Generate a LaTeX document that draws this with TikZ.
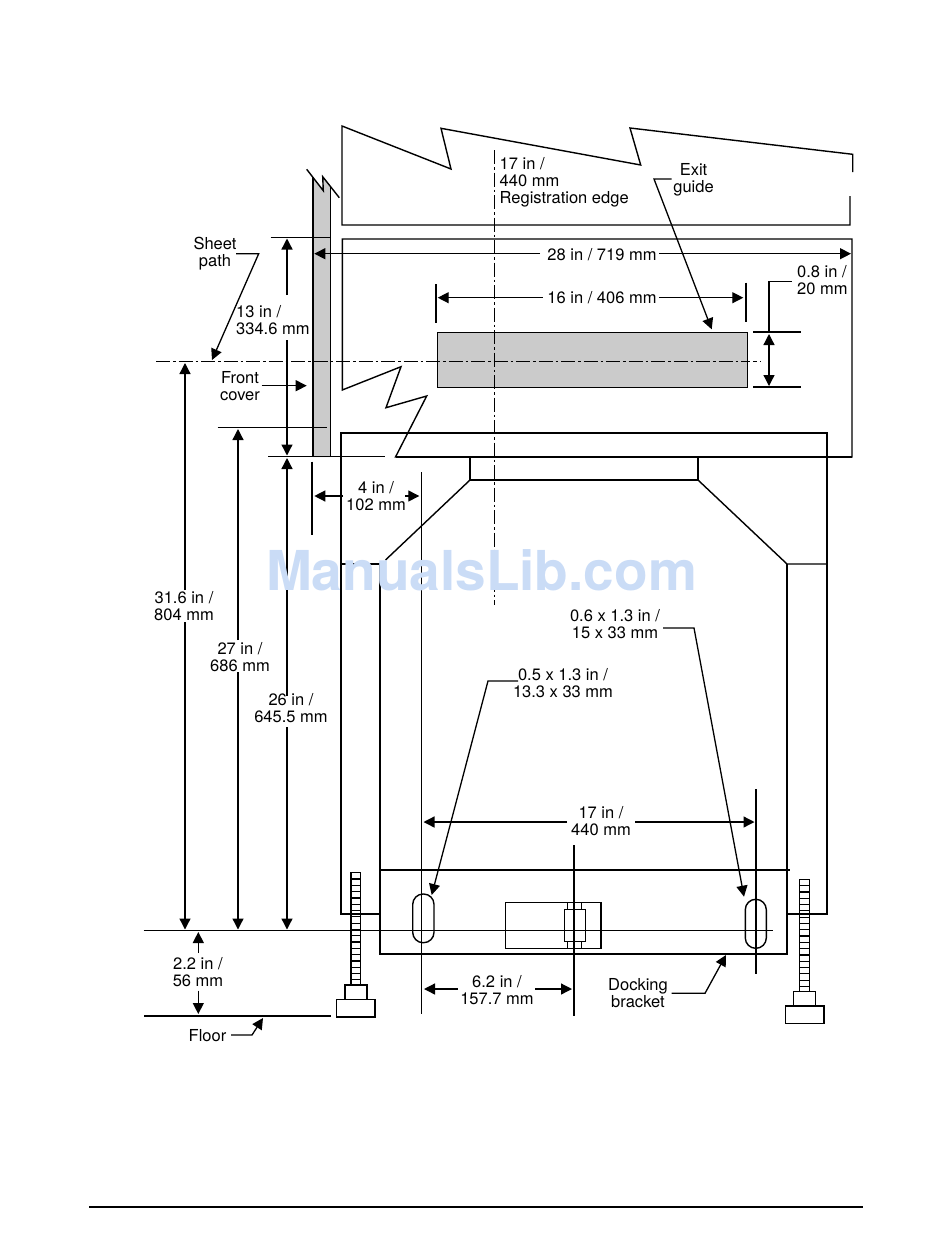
\documentclass[tikz,border=0pt]{standalone}
\usepackage{fontspec}
\setmainfont{TeX Gyre Heros}
\usetikzlibrary{arrows.meta}
\definecolor{strip}{HTML}{CBCBCB}
\definecolor{wmark}{HTML}{CADCF6}
\tikzset{
  ln/.style={line width=1.4pt,line join=miter},
  thin ln/.style={line width=1.2pt},
  hv/.style={line width=1.8pt},
  tip/.style={-{Triangle[length=11pt,width=11pt]},line width=1.3pt},
  tipboth/.style={{Triangle[length=11pt,width=11pt]}-{Triangle[length=11pt,width=11pt]},line width=1.3pt},
  centre line/.style={dash pattern=on 14pt off 3pt on 2.5pt off 3pt},
  lbl/.style={font=\fontsize{16.5}{17}\selectfont,align=center,inner sep=0pt},
  lbll/.style={font=\fontsize{16.5}{17}\selectfont,align=left,inner sep=0pt},
}
\begin{document}
\begin{tikzpicture}[x=1pt,y=-1pt]
\useasboundingbox (0,0) rectangle (950,1248);
% Grey parts
\fill[strip] (312.7,177) -- (323,190) -- (322.7,177) -- (330.7,187) -- (330.7,457) -- (312.7,457) -- cycle;
\filldraw[fill=strip,ln] (437.7,332.7) rectangle (747.7,387.3);
% Top broken panel
\draw[ln] (852.7,172) -- (852.7,154.3) -- (630,128) -- (640.7,165) -- (441,128.3) -- (451,169) -- (342,126) -- (342,225) -- (850,225) -- (850,196);
% Front panel
\draw[ln] (342.3,390) -- (342.3,239) -- (852,239) -- (852,457) -- (395.5,457) -- (426.7,396) -- (386,407.7) -- (401,366.7) -- cycle;
\draw[hv] (395.5,457) -- (852,457);
% Sheet path strip
\draw[hv] (312.7,177) -- (312.7,457);
\draw[ln] (330.7,187) -- (330.7,457);
\draw[ln] (306.7,169.3) -- (323.3,190.7) -- (322.7,176.7) -- (339.3,197.7);
% Extension lines
\draw[thin ln] (270.7,237.3) -- (330.7,237.3);
\draw[thin ln] (217.7,427.7) -- (326.7,427.7);
\draw[thin ln] (268.3,456.7) -- (385,456.7);
\draw[thin ln] (143.6,930.5) -- (773,930.5);
\draw[ln] (144,1016) -- (330.5,1016);
% Centre lines
\draw[centre line,line width=1.7pt] (156,361.5) -- (746,361.5);
\draw[line width=1.5pt,dash pattern=on 4pt off 3pt] (746,361.5) -- (761,361.5);
\draw[centre line,line width=1pt] (494,150) -- (494,605);
% Machine frame
\draw[ln] (380,914) -- (341,914) -- (341,433) -- (827,433) -- (827,914) -- (787,914);
\draw[ln] (470,457) -- (470,480) -- (698,480) -- (698,457);
\draw[ln] (385.5,560) -- (470,480);
\draw[ln] (698,480) -- (787,564) -- (827,564);
\draw[ln] (341,564) -- (380,564) -- (380,954) -- (787,954) -- (787,564);
\draw[ln] (380,870) -- (790,870);
% Vertical reference lines
\draw[ln] (312,461.7) -- (312,535);
\draw[ln] (421.7,472) -- (421.7,1014);
\draw[thin ln] (756,789) -- (756,974);
\draw[thin ln] (574,845) -- (574,1015.7);
% Slots
\draw[ln,rounded corners=10.4pt] (412.7,894) rectangle (434,942.7);
\draw[ln,rounded corners=10.4pt] (745.3,899.3) rectangle (766.3,948.3);
% Centre bracket
\draw[ln] (505.7,902.7) rectangle (601,948.3);
\draw[ln] (564.7,909.3) rectangle (585.7,941.7);
\draw[thin ln] (567.7,902.7) -- (567.7,909.3) (581.7,902.7) -- (581.7,909.3) (567.7,941.7) -- (567.7,948.3) (581.7,941.7) -- (581.7,948.3);
% Left foot
\draw[ln] (351,872.7) rectangle (360.7,985);
\foreach \y in {879,885.3,...,980} \draw[thin ln] (351,\y) -- (360.7,\y);
\draw[ln,fill=white] (345,985) rectangle (367,999.3);
\draw[ln,fill=white] (336.3,999.3) rectangle (375,1017);
% Right foot
\draw[ln] (799.3,879.3) rectangle (809.3,991.7);
\foreach \y in {885.6,891.9,...,987} \draw[thin ln] (799.3,\y) -- (809.3,\y);
\draw[ln,fill=white] (793.7,991.7) rectangle (815.3,1006);
\draw[ln,fill=white] (785.3,1006) rectangle (824,1023.7);
% Ticks for 16 in and 0.8 in
\draw[ln] (436,284) -- (436,322.7);
\draw[ln] (746,282.7) -- (746,321.7);
\draw[thin ln] (753,332) -- (801,332);
\draw[thin ln] (753,387) -- (801,387);
% Labels
\node[lbll,anchor=west] (reg) at (499.5,182) {17 in /\\440 mm\\Registration edge};
\node[lbl] (exit) at (693.5,180) {Exit\\guide};
\node[lbl] (sheet) at (215,253.5) {Sheet\\path};
\node[lbll,anchor=west] (d13) at (236,320) {13 in /\\334.6 mm};
\node[lbl] (front) at (240,386) {Front\\cover};
\node[lbl] (d28) at (602,255) {28 in / 719 mm};
\node[lbl] (d16) at (602,298) {16 in / 406 mm};
\node[lbll,anchor=west] (d08) at (797,280) {0.8 in /\\20 mm};
\node[lbl] (d4) at (376,496.5) {4 in /\\102 mm};
\node[lbl] (d316) at (184,606) {31.6 in /\\804 mm};
\node[lbl] (d27) at (240,657) {27 in /\\686 mm};
\node[lbl] (d26) at (291,708) {26 in /\\645.5 mm};
\node[lbl] (s06) at (615,624) {0.6 x 1.3 in /\\15 x 33 mm};
\node[lbl] (s05) at (563,683) {0.5 x 1.3 in /\\13.3 x 33 mm};
\node[lbl] (d17) at (601,821.5) {17 in /\\440 mm};
\node[lbl] (d22) at (198,972.5) {2.2 in /\\56 mm};
\node[lbl] (d62) at (497,990) {6.2 in /\\157.7 mm};
\node[lbl] (dock) at (638,993.5) {Docking\\bracket};
\node[lbl] (floor) at (207.5,1035.5) {Floor};
% Dimension arrows
\draw[tip] (287,295) -- (287,238.5);
\draw[tip] (287,340) -- (287,455.5);
\draw[tip] (287,696) -- (287,458);
\draw[tip] (287,727) -- (287,929.5);
\draw[tip] (238,640) -- (238,429);
\draw[tip] (238,672) -- (238,929.5);
\draw[tip] (185,590) -- (185,363);
\draw[tip] (185,622) -- (185,929.5);
\draw[tip] (198.3,953) -- (198.3,932);
\draw[tip] (198.3,990.7) -- (198.3,1014);
\draw[tip] (343,496) -- (314.3,496);
\draw[tip] (405,496) -- (419.3,496);
\draw[tip] (540,253.7) -- (314.3,253.7);
\draw[tip] (659,253.7) -- (851,253.7);
\draw[tip] (542.7,297.7) -- (437.7,297.7);
\draw[tip] (659,297.7) -- (743.3,297.7);
\draw[tipboth] (769,334) -- (769,386);
\draw[thin ln] (769,332) -- (769,281.7) -- (791.7,281.7);
\draw[tip] (567,822) -- (423.5,822);
\draw[tip] (635,822) -- (754.5,822);
\draw[tip] (457.7,989) -- (424,989);
\draw[tip] (535,989) -- (572,989);
% Leaders
\draw[tip] (671.7,179) -- (654,179) -- (711.7,329.3);
\draw[tip] (236,253.7) -- (258.7,253.7) -- (212,360);
\draw[tip] (261.7,385.7) -- (306.7,385.7);
\draw[tip] (663,628) -- (694,628) -- (744,896.7);
\draw[tip] (518,681) -- (488,681) -- (431.7,895);
\draw[tip] (671.7,993.3) -- (705,993.3) -- (726,955);
\draw[tip] (231,1035) -- (252,1035) -- (263,1018);
% Bottom rule
\draw[ln] (89,1207) -- (863,1207);
% Watermark, on top of the drawing
\node[font=\bfseries\fontsize{55}{55}\selectfont,text=wmark,inner sep=0pt] (wm) at (481.5,570) {ManualsLib.com};
\end{tikzpicture}
\end{document}
